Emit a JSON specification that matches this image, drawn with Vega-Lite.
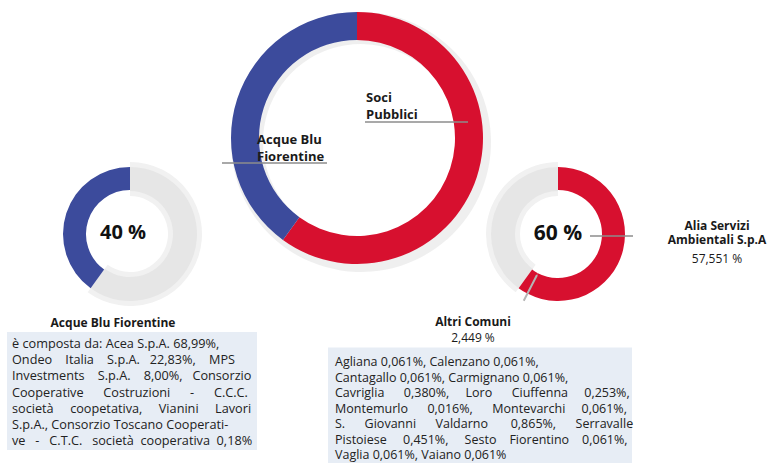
{
  "$schema": "https://vega.github.io/schema/vega-lite/v6.json",
  "width": 772,
  "height": 463,
  "padding": 0,
  "autosize": {"type": "fit", "contains": "padding"},
  "background": "white",
  "config": {"view": {"stroke": null}, "font": "Open Sans"},
  "datasets": {
    "quote": [
      {"donut": "main", "row": "top", "name": "Soci Pubblici", "group": "Soci Pubblici", "start": 0, "end": 60},
      {"donut": "main", "row": "top", "name": "Acque Blu Fiorentine", "group": "Acque Blu Fiorentine", "start": 60, "end": 100},
      {"donut": "left", "row": "bottom", "name": "Soci Pubblici", "group": "resto", "start": 0, "end": 60},
      {"donut": "left", "row": "bottom", "name": "Acque Blu Fiorentine", "group": "Acque Blu Fiorentine", "start": 60, "end": 100},
      {"donut": "right", "row": "bottom", "name": "Alia Servizi Ambientali S.p.A", "group": "Soci Pubblici", "start": 0, "end": 57.551},
      {"donut": "right", "row": "bottom", "name": "Altri Comuni", "group": "Soci Pubblici", "start": 57.551, "end": 60},
      {"donut": "right", "row": "bottom", "name": "Acque Blu Fiorentine", "group": "resto", "start": 60, "end": 100}
    ],
    "testi": [
      {"id": "soci", "donut": "main", "row": "top", "text": "Soci\nPubblici"},
      {"id": "abf", "donut": "main", "row": "top", "text": "Acque Blu\nFiorentine"},
      {"id": "pct40", "donut": "left", "row": "bottom", "text": "40 %"},
      {"id": "pct60", "donut": "right", "row": "bottom", "text": "60 %"},
      {"id": "alia", "donut": "right", "row": "bottom", "text": "Alia Servizi\nAmbientali S.p.A"},
      {"id": "aliav", "donut": "right", "row": "bottom", "text": "57,551 %"},
      {"id": "abftit", "donut": "left", "row": "bottom", "text": "Acque Blu  Fiorentine"},
      {"id": "altrit", "donut": "right", "row": "bottom", "text": "Altri Comuni"},
      {"id": "altriv", "donut": "right", "row": "bottom", "text": "2,449 %"},
      {"id": "abfpar", "donut": "left", "row": "bottom", "text": "è composta da: Acea S.p.A. 68,99%,\nOndeo \u00a0\u00a0\u00a0Italia \u00a0\u00a0\u00a0S.p.A. \u00a0\u00a022,83%, \u00a0\u00a0\u00a0MPS\nInvestments \u00a0\u00a0\u00a0S.p.A. \u00a0\u00a0\u00a08,00%, \u00a0\u00a0Consorzio\nCooperative \u00a0\u00a0\u00a0\u00a0\u00a0Costruzioni \u00a0\u00a0\u00a0\u00a0\u00a0- \u00a0\u00a0\u00a0\u00a0\u00a0C.C.C.\nsocietà \u00a0\u00a0\u00a0\u00a0coopetativa, \u00a0\u00a0\u00a0\u00a0Vianini \u00a0\u00a0\u00a0\u00a0Lavori\nS.p.A., Consorzio Toscano Cooperati-\nve \u00a0\u00a0- \u00a0\u00a0C.T.C. \u00a0\u00a0società \u00a0cooperativa \u00a00,18%"},
      {"id": "altripar", "donut": "right", "row": "bottom", "text": "Agliana 0,061%, Calenzano 0,061%,\nCantagallo 0,061%, Carmignano 0,061%,\nCavriglia \u00a0\u00a0\u00a0\u00a0\u00a00,380%, \u00a0\u00a0\u00a0\u00a0Loro \u00a0\u00a0\u00a0\u00a0\u00a0Ciuffenna \u00a0\u00a0\u00a0\u00a00,253%,\nMontemurlo \u00a0\u00a0\u00a0\u00a0\u00a00,016%, \u00a0\u00a0\u00a0\u00a0\u00a0Montevarchi \u00a0\u00a0\u00a0\u00a00,061%,\nS. \u00a0\u00a0\u00a0\u00a0\u00a0Giovanni \u00a0\u00a0\u00a0\u00a0\u00a0Valdarno \u00a0\u00a0\u00a0\u00a0\u00a0\u00a00,865%, \u00a0\u00a0\u00a0\u00a0\u00a0Serravalle\nPistoiese \u00a0\u00a0\u00a0\u00a00,451%, \u00a0\u00a0\u00a0\u00a0Sesto \u00a0\u00a0\u00a0Fiorentino \u00a0\u00a0\u00a00,061%,\nVaglia 0,061%, Vaiano 0,061%"}
    ]
  },
  "data": {"name": "quote"},
  "encoding": {
    "x": {"field": "donut", "type": "nominal", "axis": null, "scale": {"type": "point", "domain": ["left", "main", "right"], "range": [130, 558], "padding": 0}},
    "y": {"field": "row", "type": "nominal", "axis": null, "scale": {"type": "point", "domain": ["top", "bottom"], "range": [138, 234], "padding": 0}}
  },
  "layer": [
    {
      "data": {"name": "testi"},
      "transform": [{"filter": "datum.id === 'abfpar'"}],
      "mark": {"type": "rect", "width": 250, "height": 118, "xOffset": 2, "yOffset": 157, "color": "#e7edf5"}
    },
    {
      "data": {"name": "testi"},
      "transform": [{"filter": "datum.id === 'altripar'"}],
      "mark": {"type": "rect", "width": 304, "height": 133, "xOffset": -78, "yOffset": 180, "color": "#e7edf5"}
    },
    {
      "transform": [{"filter": "datum.donut === 'main'"}],
      "mark": {"type": "arc", "radius": 130, "radius2": 98, "xOffset": 17, "yOffset": 4, "color": "#e4e4e4", "opacity": 0.6},
      "encoding": {
        "theta": {"field": "start", "type": "quantitative", "scale": {"domain": [0, 100], "range": [0, 6.2832]}},
        "theta2": {"field": "end"}
      }
    },
    {
      "transform": [{"filter": "datum.group === 'resto'"}],
      "mark": {"type": "arc", "radius": 72, "radius2": 38, "color": "#f1f1f1"},
      "encoding": {
        "theta": {"field": "start", "type": "quantitative", "scale": {"domain": [0, 100], "range": [0, 6.2832]}},
        "theta2": {"field": "end"}
      }
    },
    {
      "transform": [{"filter": "datum.group === 'resto'"}],
      "mark": {"type": "arc", "radius": 67, "radius2": 43, "color": "#e6e6e6"},
      "encoding": {
        "theta": {"field": "start", "type": "quantitative", "scale": {"domain": [0, 100], "range": [0, 6.2832]}},
        "theta2": {"field": "end"}
      }
    },
    {
      "transform": [{"filter": "datum.donut !== 'main' && datum.group !== 'resto'"}],
      "mark": {"type": "arc", "radius": 67, "radius2": 44},
      "encoding": {
        "theta": {"field": "start", "type": "quantitative", "scale": {"domain": [0, 100], "range": [0, 6.2832]}},
        "theta2": {"field": "end"},
        "color": {"field": "group", "type": "nominal", "legend": null, "scale": {"domain": ["Soci Pubblici", "Acque Blu Fiorentine", "resto"], "range": ["#d7102f", "#3c4b9c", "#e6e6e6"]}}
      }
    },
    {
      "transform": [{"filter": "datum.donut === 'main'"}],
      "mark": {"type": "arc", "radius": 126, "radius2": 98, "xOffset": 13},
      "encoding": {
        "theta": {"field": "start", "type": "quantitative", "scale": {"domain": [0, 100], "range": [0, 6.2832]}},
        "theta2": {"field": "end"},
        "color": {"field": "group", "type": "nominal", "legend": null}
      }
    },
    {
      "transform": [{"filter": "datum.name === 'Altri Comuni'"}],
      "mark": {"type": "arc", "radius": 75, "radius2": 46, "stroke": "#b5b5b5", "strokeWidth": 2, "fill": null},
      "encoding": {
        "theta": {"field": "start", "type": "quantitative", "scale": {"domain": [0, 100], "range": [0, 6.2832]}},
        "theta2": {"field": "start"}
      }
    },
    {
      "transform": [{"filter": "datum.donut === 'main' && datum.name === 'Soci Pubblici'"}],
      "mark": {"type": "rule", "xOffset": 21, "x2Offset": 124, "yOffset": -16, "color": "#8c8c8c", "strokeWidth": 1.5},
      "encoding": {"x2": {"field": "donut"}}
    },
    {
      "transform": [{"filter": "datum.donut === 'main' && datum.name === 'Acque Blu Fiorentine'"}],
      "mark": {"type": "rule", "xOffset": -122, "x2Offset": -17, "yOffset": 25, "color": "#8c8c8c", "strokeWidth": 1.5},
      "encoding": {"x2": {"field": "donut"}}
    },
    {
      "transform": [{"filter": "datum.name === 'Alia Servizi Ambientali S.p.A'"}],
      "mark": {"type": "rule", "xOffset": 32, "x2Offset": 75, "yOffset": 2, "color": "#8c8c8c", "strokeWidth": 1.5},
      "encoding": {"x2": {"field": "donut"}}
    },
    {
      "data": {"name": "testi"},
      "transform": [{"filter": "datum.id === 'soci'"}],
      "mark": {"type": "text", "align": "left", "baseline": "top", "dx": 22, "dy": -46, "fontWeight": "bold", "fontSize": 13, "lineBreak": "\n", "lineHeight": 17, "color": "#1a1a1a"},
      "encoding": {"text": {"field": "text"}}
    },
    {
      "data": {"name": "testi"},
      "transform": [{"filter": "datum.id === 'abf'"}],
      "mark": {"type": "text", "align": "left", "baseline": "top", "dx": -87, "dy": -4, "fontWeight": "bold", "fontSize": 13, "lineBreak": "\n", "lineHeight": 17, "color": "#1a1a1a"},
      "encoding": {"text": {"field": "text"}}
    },
    {
      "data": {"name": "testi"},
      "transform": [{"filter": "datum.id === 'pct40'"}],
      "mark": {"type": "text", "align": "center", "baseline": "middle", "dx": -7, "dy": -1, "fontWeight": "bold", "fontSize": 20, "color": "#111111"},
      "encoding": {"text": {"field": "text"}}
    },
    {
      "data": {"name": "testi"},
      "transform": [{"filter": "datum.id === 'pct60'"}],
      "mark": {"type": "text", "align": "center", "baseline": "middle", "dx": 0, "dy": 0, "fontWeight": "bold", "fontSize": 21, "color": "#111111"},
      "encoding": {"text": {"field": "text"}}
    },
    {
      "data": {"name": "testi"},
      "transform": [{"filter": "datum.id === 'alia'"}],
      "mark": {"type": "text", "align": "center", "baseline": "top", "dx": 159, "dy": -13, "fontWeight": "bold", "fontSize": 12, "lineBreak": "\n", "lineHeight": 14, "color": "#1a1a1a"},
      "encoding": {"text": {"field": "text"}}
    },
    {
      "data": {"name": "testi"},
      "transform": [{"filter": "datum.id === 'aliav'"}],
      "mark": {"type": "text", "align": "center", "baseline": "middle", "dx": 159, "dy": 25, "fontSize": 12, "color": "#1a1a1a"},
      "encoding": {"text": {"field": "text"}}
    },
    {
      "data": {"name": "testi"},
      "transform": [{"filter": "datum.id === 'abftit'"}],
      "mark": {"type": "text", "align": "center", "baseline": "middle", "dx": -17, "dy": 89, "fontWeight": "bold", "fontSize": 12, "color": "#1a1a1a"},
      "encoding": {"text": {"field": "text"}}
    },
    {
      "data": {"name": "testi"},
      "transform": [{"filter": "datum.id === 'altrit'"}],
      "mark": {"type": "text", "align": "center", "baseline": "middle", "dx": -85, "dy": 88, "fontWeight": "bold", "fontSize": 12, "color": "#1a1a1a"},
      "encoding": {"text": {"field": "text"}}
    },
    {
      "data": {"name": "testi"},
      "transform": [{"filter": "datum.id === 'altriv'"}],
      "mark": {"type": "text", "align": "center", "baseline": "middle", "dx": -85, "dy": 104, "fontSize": 12, "color": "#1a1a1a"},
      "encoding": {"text": {"field": "text"}}
    },
    {
      "data": {"name": "testi"},
      "transform": [{"filter": "datum.id === 'abfpar'"}],
      "mark": {"type": "text", "align": "left", "baseline": "alphabetic", "dx": -118, "dy": 114, "fontSize": 12.7, "lineBreak": "\n", "lineHeight": 16.2, "color": "#222222"},
      "encoding": {"text": {"field": "text"}}
    },
    {
      "data": {"name": "testi"},
      "transform": [{"filter": "datum.id === 'altripar'"}],
      "mark": {"type": "text", "align": "left", "baseline": "alphabetic", "dx": -223, "dy": 132, "fontSize": 12.5, "lineBreak": "\n", "lineHeight": 15.5, "color": "#222222"},
      "encoding": {"text": {"field": "text"}}
    }
  ]
}
